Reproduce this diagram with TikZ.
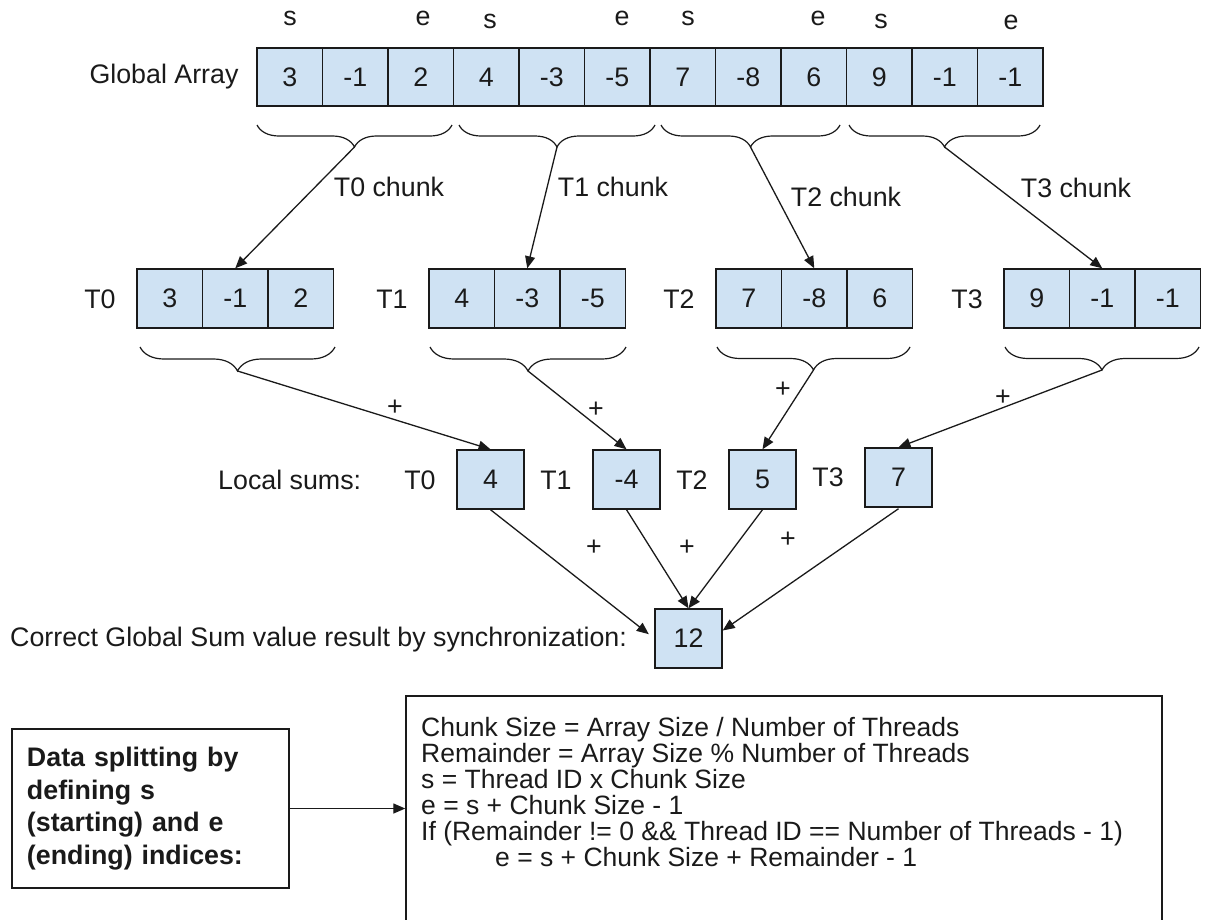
\documentclass[tikz,border=0pt]{standalone}
\usepackage{fontspec}
\setmainfont{Liberation Sans}
\usetikzlibrary{arrows.meta,decorations.pathreplacing,calc}
\definecolor{cellblue}{HTML}{CFE2F3}
\definecolor{ink}{HTML}{1A1A1A}
\begin{document}
\begin{tikzpicture}[x=1pt,y=-1pt,
  every node/.style={font=\fontsize{26.8}{30}\selectfont, inner sep=0pt, text=ink},
  cell/.style={draw=ink, line width=1.4pt, fill=cellblue, minimum width=65.5pt, minimum height=58pt},
  sumbox/.style={cell, minimum width=67pt, minimum height=59pt},
  brace/.style={draw=ink, line width=1.2pt, decorate, decoration={brace, mirror, amplitude=#1}},
  arr/.style={draw=ink, line width=1.3pt, -{Triangle[length=12pt,width=10pt]}},
  plain/.style={draw=ink, line width=1.3pt}]
\useasboundingbox (0,0) rectangle (1206,919);
\clip (0,0) rectangle (1206,919);

% ---------- global array ----------
\node (glabel) at (164,77) {Global Array};
\foreach \v [count=\i from 0] in {3,-1,2,4,-3,-5,7,-8,6,9,-1,-1}
  \node[cell] (g\i) at ({257+65.5*(\i+0.5)},77) {\v};

% start / end markers
\node (s0) at (290,18) {s};  \node (e0) at (423,18) {e};
\node (s1) at (490,21) {s};  \node (e1) at (622,18) {e};
\node (s2) at (688,18) {s};  \node (e2) at (818,18) {e};
\node (s3) at (881,21) {s};  \node (e3) at (1011,22) {e};

% braces under the global array
\draw[brace=22pt] (257,125) -- (452,125);
\draw[brace=22pt] (459,125) -- (655,125);
\draw[brace=22pt] (661,125) -- (840,125);
\draw[brace=22pt] (849,125) -- (1040,125);
\coordinate (ta0) at (354.5,147);
\coordinate (ta1) at (557,147);
\coordinate (ta2) at (750.5,147);
\coordinate (ta3) at (944.5,147);

% ---------- per-thread chunks ----------
\foreach \t/\x/\a/\b/\c in {0/137/3/-1/2, 1/429/4/-3/-5, 2/716/7/-8/6, 3/1004/9/-1/-1} {
  \node (lab\t) at ({\x-37},299) {T\t};
  \node[cell, minimum height=59pt] (c\t-a) at ({\x+32.75},298.5) {\a};
  \node[cell, minimum height=59pt] (c\t-b) at ({\x+98.25},298.5) {\b};
  \node[cell, minimum height=59pt] (c\t-c) at ({\x+163.75},298.5) {\c};
}

\draw[arr] (ta0) -- (c0-b.north);
\draw[arr] (ta1) -- (c1-b.north);
\draw[arr] (ta2) -- (c2-b.north);
\draw[arr] (ta3) -- (c3-b.north);
\node (k0) at (389,187) {T0 chunk};
\node (k1) at (613,187) {T1 chunk};
\node (k2) at (846,197) {T2 chunk};
\node (k3) at (1076,188) {T3 chunk};

% braces under the chunks
\draw[brace=24pt] (140,347) -- (335,347);
\draw[brace=24pt] (430,347) -- (626,347);
\draw[brace=23pt] (717,347) -- (910,347);
\draw[brace=23pt] (1005,347) -- (1199,347);
\coordinate (tb0) at (237.5,371);
\coordinate (tb1) at (528,371);
\coordinate (tb2) at (813.5,370);
\coordinate (tb3) at (1102,370);

% ---------- local sums ----------
\node[anchor=west] (lsum) at (218,480) {Local sums:};
\node (m0) at (420,480) {T0};
\node (m1) at (556,480) {T1};
\node (m2) at (692,480) {T2};
\node (m3) at (828,477) {T3};
\node[sumbox] (p0) at (490.5,479.5) {4};
\node[sumbox] (p1) at (626.5,479.5) {-4};
\node[sumbox] (p2) at (762.5,479.5) {5};
\node[sumbox] (p3) at (898.5,477.5) {7};

\draw[arr] (tb0) -- (p0.north);
\draw[arr] (tb1) -- (p1.north);
\draw[arr] (tb2) -- (p2.north);
\draw[arr] (tb3) -- (p3.north);
\node (q0) at (395,408) {+};
\node (q1) at (596,410) {+};
\node (q2) at (783,390) {+};
\node (q3) at (1003,398) {+};

% ---------- global result ----------
\node[sumbox] (res) at (688.5,638.5) {12};
\node[anchor=west] (rlabel) at (10,640) {Correct Global Sum value result by synchronization:};
\draw[arr, shorten >=7pt] (p0.south) -- (res.west);
\draw[arr] (p1.south) -- (res.north);
\draw[arr] (p2.south) -- (res.north);
\draw[arr] ([yshift=-1pt]p3.south) -- ([yshift=8pt]res.east);
\node (r0) at (594,548) {+};
\node (r1) at (687,548) {+};
\node (r2) at (788,540) {+};

% ---------- index formulas ----------
\node[draw=ink, line width=1.4pt, text width=247pt, inner xsep=15pt,
      minimum height=159pt, align=left,
      font=\fontsize{26.8}{32.7}\selectfont\bfseries] (split) at (150.5,808.5)
  {Data splitting by\\defining s\\(starting) and e\\(ending) indices:};
\node[draw=ink, line width=1.4pt, minimum width=756pt, minimum height=264pt] (formula) at (784,828) {};
\node[anchor=north west, align=left, font=\fontsize{26.5}{26}\selectfont] (ftext) at (421,717.5)
  {Chunk Size = Array Size / Number of Threads\\
   Remainder = Array Size \% Number of Threads\\
   s = Thread ID x Chunk Size\\
   e = s + Chunk Size - 1\\
   If (Remainder != 0 \&\& Thread ID == Number of Threads - 1)\\
   \hspace*{74pt}e = s + Chunk Size + Remainder - 1};
\draw[arr] (split.east) -- (split.east -| formula.west);
\end{tikzpicture}
\end{document}
